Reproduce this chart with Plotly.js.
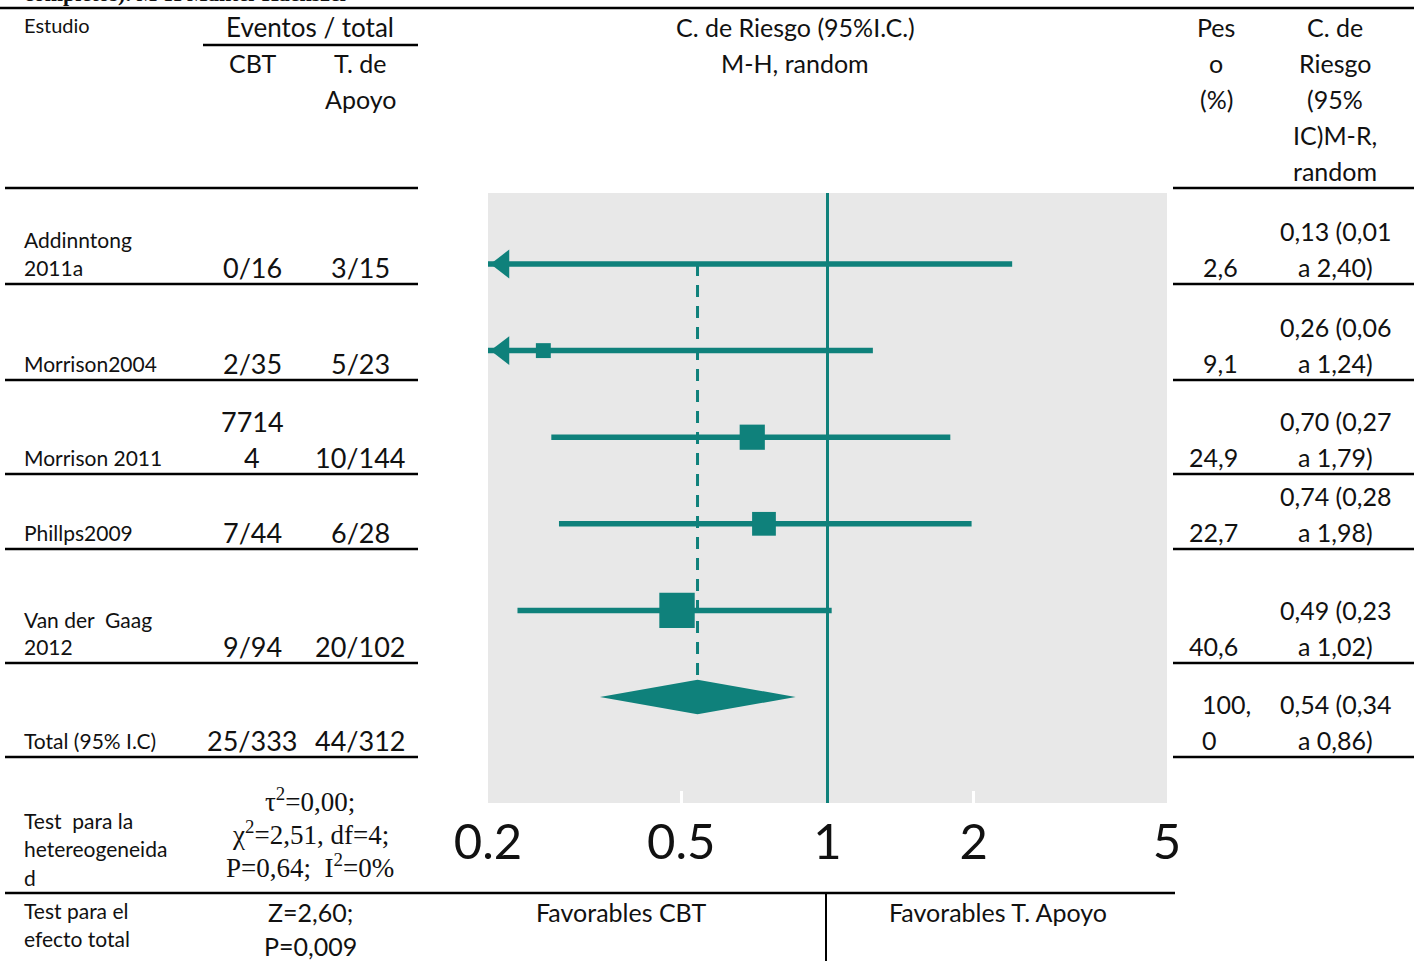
<!DOCTYPE html>
<html>
<head>
<meta charset="utf-8">
<script src="https://cdn.plot.ly/plotly-3.0.1.min.js"></script>
<style>html,body{margin:0;padding:0;background:#fff;}#chart{width:1414px;height:961px;}</style>
</head>
<body>
<div id="chart"></div>
<script>
// ---------------- DATA ----------------
const studyNames = [['Addinntong', '2011a'], ['Morrison2004'], ['Morrison 2011'], ['Phillps2009'], ['Van der\u00a0 Gaag', '2012']];
const cbtEvents = [['0/16'], ['2/35'], ['7714', '4'], ['7/44'], ['9/94']];
const apoyoEvents = ['3/15', '5/23', '10/144', '6/28', '20/102'];
const riskRatio = [0.13, 0.26, 0.70, 0.74, 0.49];
const ciLow = [0.01, 0.06, 0.27, 0.28, 0.23];
const ciHigh = [2.40, 1.24, 1.79, 1.98, 1.02];
const weights = [2.6, 9.1, 24.9, 22.7, 40.6];

const totalLabel = 'Total (95% I.C)';
const totalCbt = '25/333';
const totalApoyo = '44/312';
const totalRR = 0.54;
const totalLow = 0.34;
const totalHigh = 0.86;
const totalWeight = 100.0;

const tickVals = [0.2, 0.5, 1, 2, 5];
const tickText = ['0.2', '0.5', '1', '2', '5'];

const heterogeneity = ['\u03c4<sup>2</sup>=0,00;', '\u03c7<sup>2</sup>=2,51, df=4;', 'P=0,64;\u00a0 I<sup>2</sup>=0%'];
const overallEffect = ['Z=2,60;', 'P=0,009'];
const favourLabels = ['Favorables CBT', 'Favorables T. Apoyo'];

// ---------------- LAYOUT HELPERS ----------------
const W = 1414, H = 961;
const TEAL = '#0f817b';
const GREY = '#e8e8e8';
const SANS = 'Lato, "Open Sans", sans-serif';
const SERIF = '"Liberation Serif", "DejaVu Serif", serif';
const px = x => x / W;
const py = y => 1 - y / H;
const fmt = v => v.toFixed(2).replace('.', ',');
const fmtW = v => v.toFixed(1).replace('.', ',');

const annotations = [];
function txt(x, y, text, size, anchor, font, extra) {
  annotations.push(Object.assign({
    xref: 'paper', yref: 'paper', x: px(x), y: py(y), text: text,
    showarrow: false, xanchor: anchor || 'center', yanchor: 'middle',
    font: {family: font || SANS, size: size || 25, color: '#111'}
  }, extra || {}));
}
const shapes = [];
function hline(y, x0, x1) {
  shapes.push({type: 'line', xref: 'paper', yref: 'paper', x0: px(x0), x1: px(x1), y0: py(y), y1: py(y),
    line: {color: '#000', width: 2.5}});
}
function vline(x, y0, y1) {
  shapes.push({type: 'line', xref: 'paper', yref: 'paper', x0: px(x), x1: px(x), y0: py(y0), y1: py(y1),
    line: {color: '#000', width: 2}});
}

// column positions (pixels)
const colStudy = 22, colCbt = 252, colApoyo = 360, colEvents = 310, colPlot = 795;
const colWeightR = 1240, colCI = 1335;
const rowBottoms = [284, 380, 474, 549, 663, 757];

// Clipped caption at the very top
txt(22, -6, 'completos). M-H Mantel-Haenszel', 22, 'left', SERIF, {font: {family: SERIF, size: 22, color: '#111', weight: 'bold'}});

// rules
hline(8, 0, 1414);
hline(45, 203, 418);
[188].concat(rowBottoms).forEach(y => { hline(y, 5, 418); hline(y, 1173, 1414); });
hline(893, 5, 1175);
vline(826, 893, 961);

// headers
txt(colStudy, 25, 'Estudio', 20, 'left');
txt(colEvents, 27, 'Eventos / total', 26);
txt(colCbt, 63, 'CBT', 25);
txt(colApoyo, 63, 'T. de', 25);
txt(colApoyo, 99, 'Apoyo', 25);
txt(colPlot, 27, 'C. de Riesgo (95%I.C.)', 25);
txt(colPlot, 63, 'M-H, random', 25);
['Pes', 'o', '(%)'].forEach((t, i) => txt(1216, 27 + 36 * i, t, 25));
['C. de', 'Riesgo', '(95%', 'IC)M-R,', 'random'].forEach((t, i) => txt(colCI, 27 + 36 * i, t, 25));

// study rows
studyNames.forEach((lines, i) => {
  const base = rowBottoms[i] - 17;
  lines.forEach((t, k) => txt(colStudy, base - 27 * (lines.length - 1 - k), t, 21, 'left'));
  cbtEvents[i].forEach((t, k) => txt(colCbt, base - 36 * (cbtEvents[i].length - 1 - k), t, 27));
  txt(colApoyo, base, apoyoEvents[i], 27);
  txt(colWeightR, base, fmtW(weights[i]), 25, 'right');
  txt(colCI, base - 36, fmt(riskRatio[i]) + ' (' + fmt(ciLow[i]), 25);
  txt(colCI, base, 'a ' + fmt(ciHigh[i]) + ')', 25);
});
// total row
{
  const base = rowBottoms[studyNames.length] - 17;
  txt(colStudy, base, totalLabel, 21, 'left');
  txt(colCbt, base, totalCbt, 27);
  txt(colApoyo, base, totalApoyo, 27);
  const wl = fmtW(totalWeight);
  const cut = wl.indexOf(',') + 1;
  txt(1200, base - 36, wl.slice(0, cut), 25, 'left');
  txt(1200, base, wl.slice(cut), 25, 'left');
  txt(colCI, base - 36, fmt(totalRR) + ' (' + fmt(totalLow), 25);
  txt(colCI, base, 'a ' + fmt(totalHigh) + ')', 25);
}

// bottom tests
['Test\u00a0 para la', 'hetereogeneida', 'd'].forEach((t, i) => txt(colStudy, 820 + 28.5 * i, t, 21, 'left'));
heterogeneity.forEach((t, i) => txt(colEvents, 800 + 33 * i, t, 27, 'center', SERIF));
['Test para el', 'efecto total'].forEach((t, i) => txt(colStudy, 910 + 28 * i, t, 21, 'left'));
overallEffect.forEach((t, i) => txt(colEvents, 912 + 34 * i, t, 25));
txt(621, 912, favourLabels[0], 25);
txt(998, 912, favourLabels[1], 25);

// ---------------- PLOT ----------------
const nRows = studyNames.length;
const rows = studyNames.map((_, i) => i);
const yRange = [6.224, -0.82];
const xMin = tickVals[0], xMax = tickVals[tickVals.length - 1];

const traces = [];
// null-effect line
traces.push({x: [1, 1], y: yRange, mode: 'lines', line: {color: TEAL, width: 3}, hoverinfo: 'skip'});
// pooled estimate dashed line
traces.push({x: [totalRR, totalRR], y: [0, nRows - 0.2], mode: 'lines',
  line: {color: TEAL, width: 3, dash: '12px,9px'}, hoverinfo: 'skip'});
// CI lines
rows.forEach(i => {
  traces.push({x: [ciLow[i], ciHigh[i]], y: [i, i], mode: 'lines',
    line: {color: TEAL, width: 5.5}, hoverinfo: 'skip'});
});
// squares
traces.push({x: riskRatio, y: rows, mode: 'markers',
  marker: {symbol: 'square', color: TEAL, opacity: 1, size: weights.map(w => 9 + 0.65 * w), line: {width: 0}},
  hoverinfo: 'skip'});
// diamond
traces.push({x: [totalLow, totalRR, totalHigh, totalRR, totalLow], y: [nRows, nRows - 0.2, nRows, nRows + 0.2, nRows],
  mode: 'lines', fill: 'toself', fillcolor: TEAL, line: {color: TEAL, width: 0}, hoverinfo: 'skip'});
// arrow heads for CIs truncated at the left of the axis
const arrowRows = rows.filter(i => ciLow[i] < xMin);
traces.push({x: arrowRows.map(() => xMin * Math.pow(10, 15 / 486)), y: arrowRows, mode: 'markers',
  marker: {symbol: 'triangle-left', color: TEAL, opacity: 1, size: 25, line: {width: 0}},
  cliponaxis: false, hoverinfo: 'skip'});

const layout = {
  width: W, height: H,
  margin: {l: 0, r: 0, t: 0, b: 0},
  paper_bgcolor: '#fff', plot_bgcolor: GREY,
  showlegend: false,
  xaxis: {
    type: 'log', range: [Math.log10(xMin), Math.log10(xMax)],
    domain: [px(488), px(1167)],
    tickvals: tickVals, ticktext: tickText,
    ticks: 'inside', ticklen: 12, tickwidth: 3, tickcolor: '#ffffff',
    showgrid: false, zeroline: false, showline: false, layer: 'below traces',
    tickfont: {family: SANS, size: 49, color: '#111'},
    ticklabelstandoff: 6, fixedrange: true
  },
  yaxis: {
    range: yRange, domain: [py(803), py(193)],
    visible: false, showgrid: false, zeroline: false, fixedrange: true
  },
  shapes: shapes,
  annotations: annotations
};

Plotly.newPlot('chart', traces, layout, {displayModeBar: false, staticPlot: true});
</script>
</body>
</html>
